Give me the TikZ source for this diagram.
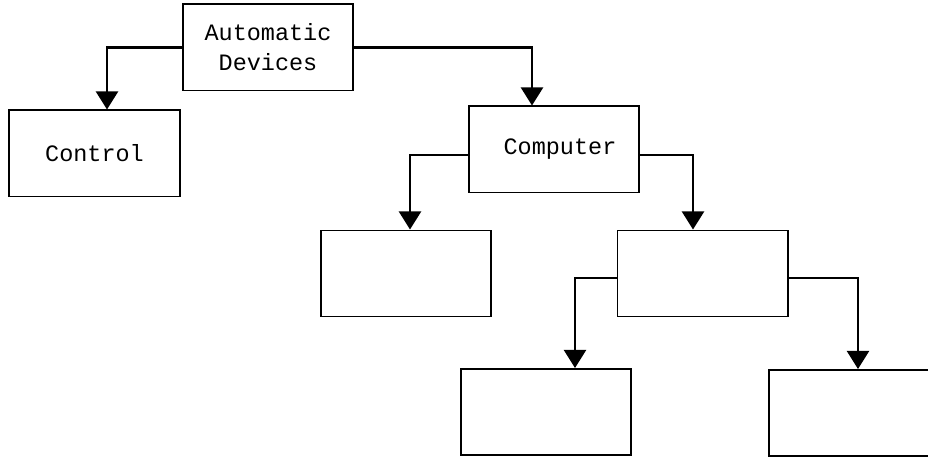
\documentclass[tikz,border=0pt]{standalone}
\usepackage{fontspec}
\setmonofont{Liberation Mono}
\usetikzlibrary{arrows.meta,calc}
\tikzset{
  blk/.style={draw,line width=1.4pt,minimum width=4.25cm,minimum height=2.15cm,inner sep=0pt,align=center,font=\ttfamily\fontsize{16.7}{21.3}\selectfont},
  conn/.style={line width=1.5pt,-{Triangle[width=0.55cm,length=0.45cm]}}
}
\begin{document}
\begin{tikzpicture}[x=0.025cm,y=-0.025cm]
\useasboundingbox (0,0) rectangle (928,457);
\node[blk] (auto) at (268,47.5) {Automatic\\Devices};
\node[blk] (ctrl) at (94.5,153.5) {Control};
\node[blk] (comp) at (554,149.5) {\raisebox{0.09cm}{\hspace*{0.3cm}Computer}};
\node[blk] (boxA) at (406,273.5) {};
\node[blk] (boxB) at (702.5,273.5) {};
\node[blk] (boxC) at (546,412) {};
\node[blk,minimum width=4.15cm] (boxD) at (852,413) {};
\draw[conn] (auto.west) -| ($(ctrl.north)+(12.5,0)$);
\draw[conn] (auto.east) -| ($(comp.north)+(-22,0)$);
\draw[conn] ($(comp.west)+(0,5.5)$) -| ($(boxA.north)+(4,0)$);
\draw[conn] ($(comp.east)+(0,5.5)$) -| ($(boxB.north)+(-9.5,0)$);
\draw[conn] ($(boxB.west)+(0,4.5)$) -| ($(boxC.north)+(29,0)$);
\draw[conn] ($(boxB.east)+(0,4.5)$) -| ($(boxD.north)+(6,0)$);
\end{tikzpicture}
\end{document}
